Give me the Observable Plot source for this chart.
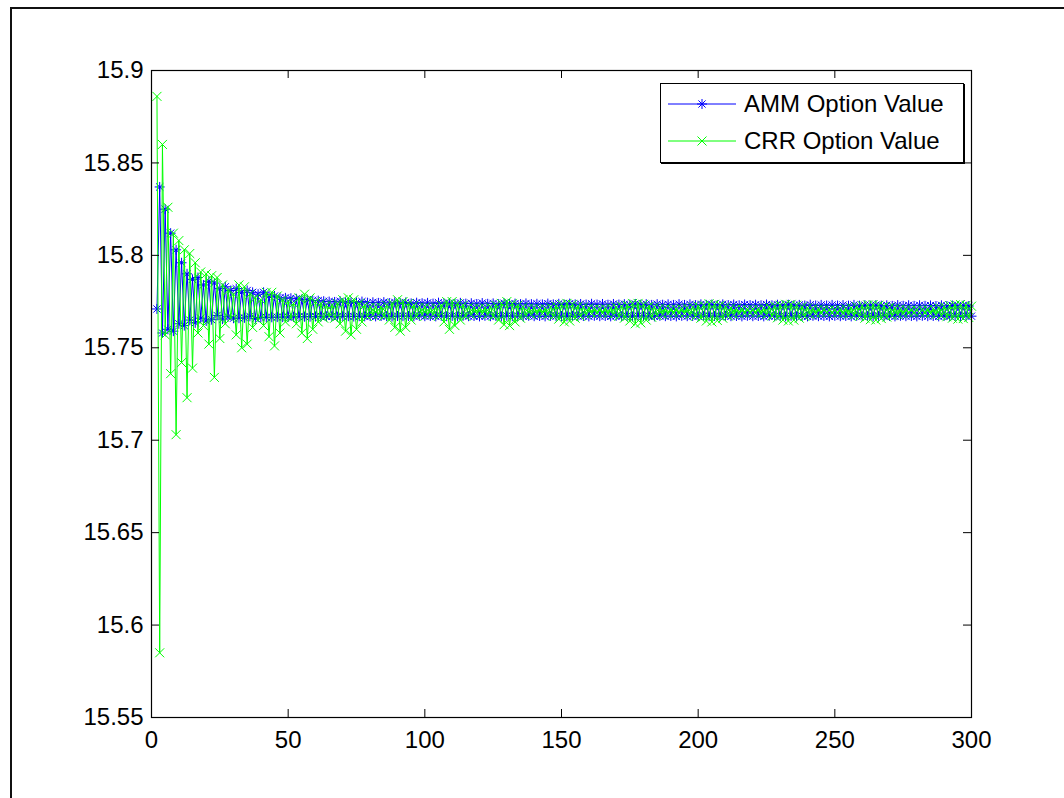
<!DOCTYPE html>
<html>
<head>
<meta charset="utf-8">
<script src="https://cdn.jsdelivr.net/npm/d3@7"></script>
<script src="https://cdn.jsdelivr.net/npm/@observablehq/plot@0.6"></script>
<style>
  html, body { margin: 0; padding: 0; background: #fff; }
  #wrap { position: relative; width: 1064px; height: 798px; overflow: hidden; background: #fff; }
  #frame { position: absolute; left: 10px; top: 7px; width: 2000px; height: 2000px; border-left: 2px solid #111; border-top: 2px solid #111; }
  #chart { position: absolute; left: 0; top: 0; }
  #legend { position: absolute; left: 660px; top: 83px; width: 302px; height: 78px; border: 1px solid #000; background: #fff; box-shadow: 1px 1px 0 #000; }
</style>
</head>
<body>
<div id="wrap">
  <div id="frame"></div>
  <div id="chart"></div>
  <div id="legend"></div>
</div>
<script>
// Step index (number of time steps)
const steps = d3.range(2, 301);

// AMM option values, n = 2..300
const ammValues = [
15.771, 15.837, 15.758, 15.825, 15.760, 15.812, 15.759, 15.803, 15.763, 15.796,
15.762, 15.790, 15.765, 15.787, 15.7635, 15.788, 15.766, 15.784, 15.7645, 15.786,
15.7652, 15.785, 15.7675, 15.782, 15.7655, 15.783, 15.7668, 15.781, 15.766, 15.782,
15.766, 15.780, 15.7662, 15.781, 15.7670, 15.780, 15.7658, 15.779, 15.7664, 15.780,
15.7665, 15.778, 15.7665, 15.778, 15.7666, 15.777, 15.7666, 15.777, 15.7667, 15.7768,
15.7667, 15.7765, 15.7668, 15.7762, 15.7668, 15.776, 15.7668, 15.7756, 15.7669, 15.7755,
15.7669, 15.7752, 15.7670, 15.7750, 15.7670, 15.7748, 15.7668, 15.7752, 15.7670, 15.7746,
15.7671, 15.7748, 15.7669, 15.7745, 15.7671, 15.7750, 15.7670, 15.7744, 15.7672, 15.7746,
15.7670, 15.7743, 15.7672, 15.7747, 15.7671, 15.7742, 15.7669, 15.7746, 15.7672, 15.7741,
15.7671, 15.7745, 15.7672, 15.7740, 15.7670, 15.7744, 15.7673, 15.7741, 15.7671, 15.7743,
15.7672, 15.7739, 15.7670, 15.7744, 15.7673, 15.7740, 15.7671, 15.7742, 15.7672, 15.7738,
15.7670, 15.7743, 15.7673, 15.7739, 15.7671, 15.7741, 15.7672, 15.7737, 15.7670, 15.7742,
15.7673, 15.7738, 15.7671, 15.7740, 15.7672, 15.7736, 15.7670, 15.7741, 15.7673, 15.7737,
15.7671, 15.7739, 15.7672, 15.7736, 15.7670, 15.7740, 15.7673, 15.7736, 15.7671, 15.7738,
15.7672, 15.7735, 15.7670, 15.7739, 15.7673, 15.7735, 15.7671, 15.7738, 15.7672, 15.7734,
15.7670, 15.7739, 15.7673, 15.7735, 15.7671, 15.7737, 15.7672, 15.7734, 15.7670, 15.7738,
15.7673, 15.7734, 15.7671, 15.7737, 15.7672, 15.7733, 15.7670, 15.7737, 15.7673, 15.7734,
15.7671, 15.7736, 15.7672, 15.7733, 15.7670, 15.7737, 15.7673, 15.7733, 15.7671, 15.7736,
15.7672, 15.7732, 15.7670, 15.7736, 15.7673, 15.7733, 15.7671, 15.7735, 15.7672, 15.7732,
15.7670, 15.7736, 15.7673, 15.7732, 15.7671, 15.7735, 15.7672, 15.7731, 15.7670, 15.7735,
15.7673, 15.7732, 15.7671, 15.7734, 15.7672, 15.7731, 15.7670, 15.7735, 15.7673, 15.7731,
15.7671, 15.7734, 15.7672, 15.7730, 15.7670, 15.7734, 15.7673, 15.7731, 15.7671, 15.7733,
15.7672, 15.7730, 15.7670, 15.7734, 15.7673, 15.7730, 15.7671, 15.7733, 15.7672, 15.7730,
15.7670, 15.7733, 15.7673, 15.7730, 15.7671, 15.7732, 15.7672, 15.7729, 15.7670, 15.7733,
15.7673, 15.7729, 15.7671, 15.7732, 15.7672, 15.7729, 15.7670, 15.7732, 15.7673, 15.7729,
15.7671, 15.7731, 15.7672, 15.7728, 15.7670, 15.7732, 15.7673, 15.7728, 15.7671, 15.7731,
15.7672, 15.7728, 15.7670, 15.7731, 15.7673, 15.7728, 15.7671, 15.7730, 15.7672, 15.7727,
15.7670, 15.7731, 15.7673, 15.7727, 15.7671, 15.7730, 15.7672, 15.7727, 15.7670, 15.7730,
15.7673, 15.7727, 15.7671, 15.7729, 15.7672, 15.7726, 15.7670, 15.7730, 15.7673, 15.7726,
15.7671, 15.7729, 15.7672, 15.7726, 15.7670, 15.7729, 15.7673, 15.7726, 15.7671
];

// CRR option values, n = 2..300
const crrValues = [
15.886, 15.585, 15.860, 15.757, 15.826, 15.736, 15.812, 15.703, 15.808, 15.742,
15.803, 15.723, 15.801, 15.739, 15.796, 15.758, 15.791, 15.762, 15.790, 15.752,
15.789, 15.734, 15.788, 15.755, 15.784, 15.763, 15.781, 15.766, 15.779, 15.757,
15.784, 15.750, 15.783, 15.752, 15.779, 15.761, 15.777, 15.765, 15.776, 15.762,
15.780, 15.756, 15.780, 15.751, 15.778, 15.758, 15.776, 15.764, 15.775, 15.766,
15.774, 15.763, 15.777, 15.758, 15.779, 15.755, 15.777, 15.760, 15.775, 15.764,
15.774, 15.766, 15.773, 15.767, 15.773, 15.766, 15.774, 15.763, 15.776, 15.759,
15.777, 15.757, 15.776, 15.760, 15.774, 15.764, 15.773, 15.767, 15.772, 15.768,
15.772, 15.768, 15.772, 15.767, 15.773, 15.765, 15.774, 15.761, 15.776, 15.759,
15.775, 15.761, 15.774, 15.765, 15.773, 15.767, 15.772, 15.768, 15.772, 15.768,
15.7715, 15.768, 15.772, 15.767, 15.773, 15.764, 15.775, 15.760, 15.775, 15.762,
15.774, 15.765, 15.773, 15.767, 15.772, 15.768, 15.7715, 15.7685, 15.7715, 15.7685,
15.7715, 15.768, 15.772, 15.767, 15.773, 15.765, 15.774, 15.7625, 15.775, 15.762,
15.774, 15.764, 15.773, 15.766, 15.772, 15.7675, 15.7715, 15.768, 15.7715, 15.7685,
15.7712, 15.7685, 15.7712, 15.768, 15.772, 15.767, 15.7725, 15.7655, 15.7735, 15.764,
15.774, 15.7645, 15.7735, 15.766, 15.7725, 15.767, 15.772, 15.768, 15.7715, 15.7685,
15.7712, 15.7688, 15.771, 15.7688, 15.7712, 15.7685, 15.7715, 15.768, 15.772, 15.767,
15.7725, 15.766, 15.773, 15.7645, 15.774, 15.763, 15.774, 15.7635, 15.7735, 15.765,
15.7725, 15.7665, 15.772, 15.7675, 15.7715, 15.768, 15.7712, 15.7685, 15.771, 15.7688,
15.771, 15.7688, 15.7712, 15.7685, 15.7715, 15.768, 15.772, 15.767, 15.7725, 15.766,
15.773, 15.7645, 15.7738, 15.764, 15.7735, 15.7648, 15.773, 15.766, 15.7722, 15.7672,
15.7715, 15.768, 15.7712, 15.7685, 15.771, 15.7688, 15.7708, 15.769, 15.7708, 15.7688,
15.771, 15.7685, 15.7714, 15.768, 15.772, 15.7672, 15.7725, 15.7662, 15.773, 15.765,
15.7735, 15.7645, 15.7735, 15.765, 15.773, 15.766, 15.7722, 15.767, 15.7716, 15.768,
15.7712, 15.7685, 15.771, 15.7688, 15.7708, 15.769, 15.7706, 15.769, 15.7706, 15.7688,
15.7708, 15.7686, 15.7712, 15.7682, 15.7716, 15.7676, 15.7722, 15.767, 15.7728, 15.766,
15.7732, 15.7652, 15.7734, 15.765, 15.773, 15.7658, 15.7724, 15.7666, 15.7718, 15.7674,
15.7714, 15.768, 15.771, 15.7685, 15.7708, 15.7688, 15.7706, 15.769, 15.7705, 15.769,
15.7706, 15.7688, 15.7708, 15.7685, 15.7712, 15.768, 15.7716, 15.7674, 15.7722, 15.7668,
15.7728, 15.766, 15.7732, 15.7655, 15.7734, 15.7658, 15.773, 15.7664, 15.7725
];

const xTicks = [0, 50, 100, 150, 200, 250, 300];
const yTicks = [15.55, 15.6, 15.65, 15.7, 15.75, 15.8, 15.85, 15.9];
const yTickLabels = ["15.55", "15.6", "15.65", "15.7", "15.75", "15.8", "15.85", "15.9"];
const seriesNames = ["AMM Option Value", "CRR Option Value"];
const seriesColors = ["#0000ff", "#00ff00"];

const amm = steps.map((n, i) => ({n, v: ammValues[i]}));
const crr = steps.map((n, i) => ({n, v: crrValues[i]}));

// MATLAB-like markers
const starSymbol = {
  draw(ctx, size) {
    const r = Math.sqrt(size / Math.PI);
    const d = r * 0.72;
    ctx.moveTo(-r, 0); ctx.lineTo(r, 0);
    ctx.moveTo(0, -r); ctx.lineTo(0, r);
    ctx.moveTo(-d, -d); ctx.lineTo(d, d);
    ctx.moveTo(-d, d); ctx.lineTo(d, -d);
  }
};
const timesSymbol = {
  draw(ctx, size) {
    const r = Math.sqrt(size / Math.PI);
    ctx.moveTo(-r, -r); ctx.lineTo(r, r);
    ctx.moveTo(-r, r); ctx.lineTo(r, -r);
  }
};

const W = 1064, H = 798;
const mL = 151, mR = 93, mT = 70, mB = 81;
const fw = W - mL - mR, fh = H - mT - mB;
const tickLen = 8;

const chart = Plot.plot({
  width: W,
  height: H,
  marginLeft: mL,
  marginRight: mR,
  marginTop: mT,
  marginBottom: mB,
  x: {domain: [0, 300]},
  y: {domain: [15.55, 15.9]},
  style: {fontFamily: "'Liberation Sans', Arial, sans-serif", fontSize: "24px", color: "#000", background: "transparent"},
  marks: [
    Plot.line(amm, {x: "n", y: "v", stroke: seriesColors[0], strokeWidth: 1}),
    Plot.dot(amm, {x: "n", y: "v", symbol: starSymbol, r: 5, stroke: seriesColors[0], strokeWidth: 1}),
    Plot.line(crr, {x: "n", y: "v", stroke: seriesColors[1], strokeWidth: 1}),
    Plot.dot(crr, {x: "n", y: "v", symbol: timesSymbol, r: 4.5, stroke: seriesColors[1], strokeWidth: 1}),
    Plot.frame({stroke: "#000", strokeWidth: 1.2}),
    Plot.tickY(yTicks, {y: d => d, stroke: "#000", insetRight: fw - tickLen}),
    Plot.tickY(yTicks, {y: d => d, stroke: "#000", insetLeft: fw - tickLen}),
    Plot.tickX(xTicks, {x: d => d, stroke: "#000", insetTop: fh - tickLen}),
    Plot.tickX(xTicks, {x: d => d, stroke: "#000", insetBottom: fh - tickLen}),
    Plot.axisX({ticks: xTicks, tickSize: 0, tickPadding: 13, label: null, fontSize: 24, tickFormat: d => String(d)}),
    Plot.axisY({ticks: yTicks, tickSize: 0, tickPadding: 8, label: null, fontSize: 24, tickFormat: (d, i) => yTickLabels[yTicks.indexOf(d)]})
  ]
});
document.getElementById("chart").appendChild(chart);

// Legend
const legendEl = document.getElementById("legend");
const lsvg = d3.select(legendEl).append("svg").attr("width", 302).attr("height", 78)
  .style("display", "block");
const rows = [20, 57];
const syms = [starSymbol, timesSymbol];
const symR = [5, 4.5];
seriesNames.forEach((name, i) => {
  const g = lsvg.append("g").attr("transform", `translate(0,${rows[i]})`);
  g.append("line").attr("x1", 7).attr("x2", 75).attr("y1", 0).attr("y2", 0)
    .attr("stroke", seriesColors[i]).attr("stroke-width", 1);
  g.append("path").attr("transform", "translate(41,0)")
    .attr("d", d3.symbol(syms[i], Math.PI * symR[i] * symR[i])())
    .attr("fill", "none").attr("stroke", seriesColors[i]).attr("stroke-width", 1);
  g.append("text").attr("x", 83).attr("y", 0).attr("dy", "0.35em")
    .attr("font-family", "'Liberation Sans', Arial, sans-serif").attr("font-size", 24)
    .attr("fill", "#000").text(name);
});
</script>
</body>
</html>
